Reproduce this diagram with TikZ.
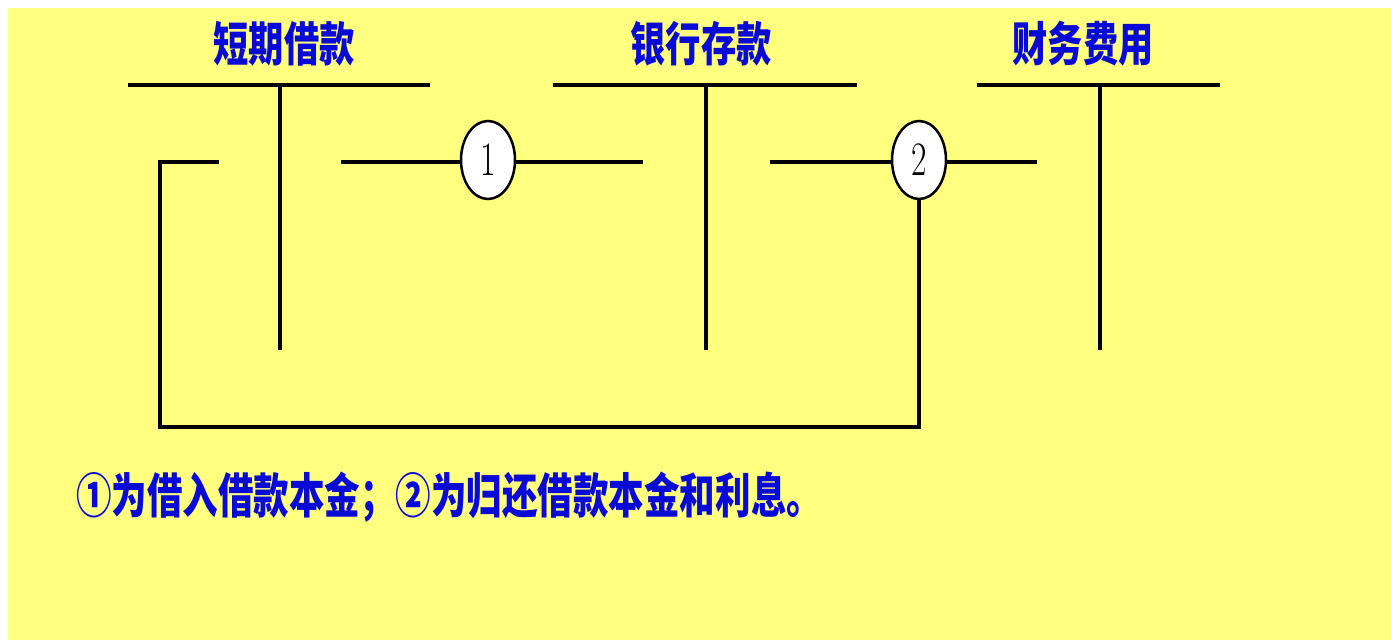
\documentclass[tikz,border=0pt]{standalone}
\usepackage{fontspec}
\newfontfamily\cjk{Noto Sans CJK SC}
\usetikzlibrary{shapes.geometric}
\definecolor{bgyellow}{RGB}{255,255,128}
\definecolor{txtblue}{RGB}{10,10,215}
\begin{document}
\begin{tikzpicture}[x=1pt,y=-1pt,
  acc/.style={line width=3.2pt},
  link/.style={line width=3.2pt},
  ttl/.style={font=\cjk\bfseries\fontsize{47}{47}\selectfont, text=txtblue, xscale=0.75, inner sep=0pt},
  note/.style={font=\cjk\bfseries\fontsize{48}{48}\selectfont, text=txtblue, xscale=0.74, inner sep=0pt, anchor=west},
  entry/.style={ellipse, draw, fill=white, line width=2.5pt, minimum width=54pt, minimum height=78pt, inner sep=0pt, font=\fontsize{48}{48}\selectfont}
]
\useasboundingbox (0,0) rectangle (1391,640);
\fill[white] (0,0) rectangle (1391,640);
\fill[bgyellow] (8,8) rectangle (1391,640);

% titles
\node[ttl] (t1) at (284,44) {短期借款};
\node[ttl] (t2) at (701,44) {银行存款};
\node[ttl] (t3) at (1083,44) {财务费用};

% T accounts
\draw[acc] (128,85) -- (430,85) (280,85) -- (280,350);
\draw[acc] (553,85) -- (857,85) (706,85) -- (706,350);
\draw[acc] (977,85) -- (1220,85) (1100,85) -- (1100,350);

% entry circles
\node[entry] (e1) at (488,160) {\scalebox{0.7}[1]{1}};
\node[entry] (e2) at (919,160) {\scalebox{0.7}[1]{2}};

% stubs
\coordinate (a1cr) at (341,162);
\coordinate (a2dr) at (643,162);
\coordinate (a2cr) at (770,162);
\coordinate (a3dr) at (1037,162);
\coordinate (a1dr) at (219,162);
\coordinate (k1) at (160,162);
\coordinate (k2) at (160,427);
\coordinate (k3) at (e2.south |- k2);

\draw[link] (a1cr) -- (e1.west |- a1cr);
\draw[link] (e1.east |- a2dr) -- (a2dr);
\draw[link] (a2cr) -- (e2.west |- a2cr);
\draw[link] (e2.east |- a3dr) -- (a3dr);
\draw[link] (e2.south) -- (k3) -- (k2) -- (k1) -- (a1dr);

% note
\node[note] (n) at (76,497) {①为借入借款本金；②为归还借款本金和利息。};
\end{tikzpicture}
\end{document}
